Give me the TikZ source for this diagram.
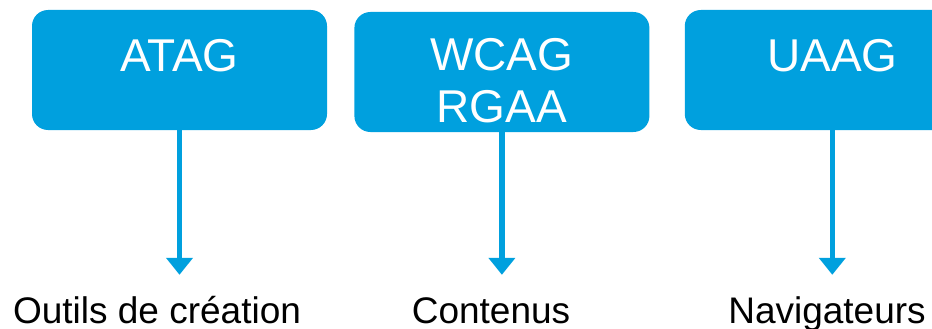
\documentclass[tikz,border=0pt]{standalone}
\usepackage{fontspec}
\setmainfont{Liberation Sans}
\usetikzlibrary{arrows.meta, positioning}
\definecolor{boxblue}{RGB}{0, 160, 222}
\definecolor{darktext}{RGB}{0, 0, 0}

\begin{document}
\begin{tikzpicture}[
    x=1pt, y=-1pt,
    box/.style={rectangle, fill=boxblue, rounded corners=16pt, text=white,
                minimum width=295pt, align=center, inner xsep=0pt, inner ysep=5pt,
                text height=56pt, text depth=54pt,
                font=\fontsize{46}{52}\selectfont},
    twoline/.style={text height=105pt, text depth=5pt},
    target/.style={text=darktext, inner sep=0pt, anchor=base,
                   text height=26pt, text depth=8pt,
                   font=\fontsize{37}{40}\selectfont},
    arrow/.style={-{Triangle[width=26pt, length=17pt]}, line width=5.5pt, boxblue,
                  shorten >=22pt}
]
\useasboundingbox (0,0) rectangle (932,329);

% Guidelines
\node[box] (atag) at (179.5,70) {ATAG};
\node[box, twoline, right=27pt of atag, yshift=-2pt] (wcag) {WCAG\\RGAA};
\node[box, right=35pt of wcag, yshift=2pt] (uaag) {UAAG};

% Targets
\node[target] (outils) at (157,323) {Outils de création};
\node[target] (contenus) at (491,323) {Contenus};
\node[target] (navig) at (827,323) {Navigateurs};

% Arrows
\draw[arrow] (atag) -- (atag |- outils.north);
\draw[arrow] (wcag) -- (wcag |- contenus.north);
\draw[arrow] (uaag) -- (uaag |- navig.north);

\end{tikzpicture}
\end{document}
